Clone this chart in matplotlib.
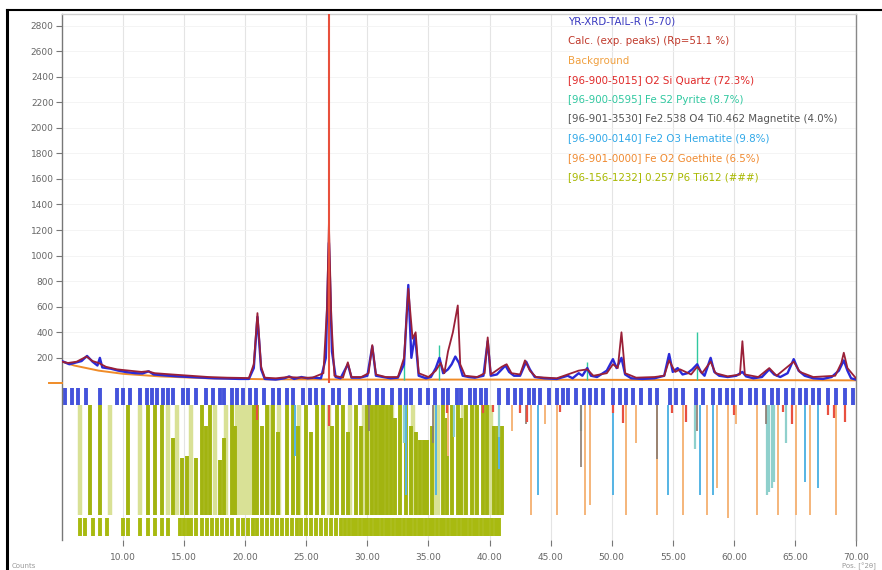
import matplotlib
matplotlib.use("Agg")
import matplotlib.pyplot as plt
from matplotlib.lines import Line2D

# ---------------- data ----------------
obs_x = [5.0, 5.6, 6.2, 6.6, 7.05, 7.5, 7.9, 8.1, 8.3, 9.0, 9.6, 10.3, 11.0, 11.6, 12.1, 12.5, 13.5, 14.5,
         15.5, 16.5, 17.5, 18.5, 19.5, 20.3, 20.7, 21.0, 21.3, 21.6, 22.5, 23.2, 23.6, 24.0, 24.6, 25.1, 25.6,
         26.2, 26.6, 26.85, 27.1, 27.4, 27.8, 28.4, 28.7, 29.4, 30.0, 30.4, 30.7, 31.3, 31.9, 32.5, 33.0, 33.35,
         33.6, 33.9, 34.2, 34.8, 35.2, 35.6, 35.9, 36.2, 36.6, 36.9, 37.2, 37.5, 37.8, 38.3, 38.8, 39.5, 39.85,
         40.1, 40.6, 41.0, 41.3, 41.6, 42.0, 42.5, 43.0, 43.3, 43.7, 44.5, 45.5, 46.4, 46.8, 47.3, 47.6, 48.0,
         48.3, 48.8, 49.6, 50.1, 50.4, 50.8, 51.1, 51.6, 52.5, 53.5, 54.3, 54.7, 55.0, 55.4, 55.8, 56.2, 56.6,
         57.0, 57.3, 57.6, 58.1, 58.4, 58.8, 59.5, 60.2, 60.7, 61.0, 61.6, 62.3, 62.9, 63.3, 63.8, 64.4, 64.9,
         65.3, 65.8, 66.5, 67.3, 68.0, 68.6, 69.0, 69.3, 69.6, 70.0]
obs_y = [175, 150, 165, 175, 215, 170, 140, 200, 125, 115, 100, 88, 80, 78, 95, 70, 62, 55,
         50, 45, 40, 38, 35, 35, 120, 520, 110, 35, 30, 40, 55, 35, 50, 40, 45,
         40, 200, 1100, 250, 50, 40, 150, 45, 45, 60, 290, 60, 50, 40, 45, 150, 770,
         200, 380, 60, 40, 50, 120, 200, 80, 110, 150, 210, 160, 60, 50, 45, 60, 330,
         60, 70, 110, 140, 90, 60, 60, 170, 110, 50, 40, 35, 60, 40, 80, 60, 120,
         60, 50, 100, 190, 120, 200, 70, 40, 35, 40, 60, 230, 90, 120, 70, 80, 110,
         150, 90, 60, 200, 90, 60, 50, 60, 90, 55, 40, 50, 110, 70, 50, 80, 190,
         100, 60, 40, 35, 50, 100, 180, 100, 40, 30]

calc_x = [5.0, 5.5, 6.2, 7.0, 7.5, 8.0, 8.6, 9.5, 10.5, 11.5, 12.0, 12.6, 14.0, 15.5, 17.0, 18.5, 20.3, 20.7,
          21.0, 21.3, 21.6, 22.5, 23.5, 24.5, 25.5, 26.4, 26.7, 26.85, 27.05, 27.3, 28.0, 28.4, 28.7, 29.5,
          30.1, 30.4, 30.7, 31.5, 32.5, 33.0, 33.35, 33.7, 33.95, 34.2, 35.0, 35.6, 36.0, 36.3, 36.6, 37.0,
          37.4, 37.6, 38.0, 39.0, 39.6, 39.85, 40.1, 41.0, 41.4, 41.8, 42.5, 42.9, 43.3, 43.8, 45.5, 46.4,
          47.3, 48.0, 48.5, 49.6, 50.1, 50.5, 50.8, 51.1, 52.0, 53.5, 54.3, 54.7, 55.2, 55.6, 56.5, 57.0,
          57.4, 58.1, 58.5, 59.5, 60.5, 60.7, 60.9, 62.0, 62.9, 63.5, 64.9, 65.4, 66.5, 68.3, 68.8, 69.0,
          69.3, 70.0]
calc_y = [170, 160, 170, 210, 175, 160, 130, 110, 100, 90, 95, 80, 70, 60, 50, 45, 42, 150,
          550, 130, 45, 40, 50, 45, 45, 80, 600, 1250, 500, 60, 45, 165, 50, 50,
          80, 300, 70, 50, 50, 200, 740, 350, 400, 80, 50, 100, 160, 80, 250, 400,
          610, 150, 60, 50, 80, 360, 70, 130, 150, 80, 70, 180, 100, 50, 40, 70,
          100, 110, 60, 80, 150, 120, 400, 80, 45, 50, 60, 180, 90, 110, 70, 130,
          80, 170, 80, 55, 70, 330, 70, 50, 120, 60, 170, 90, 50, 60, 160, 240,
          120, 40]

bg_x = [5, 6, 7, 8, 10, 13, 17, 22, 30, 40, 50, 60, 70]
bg_y = [170, 140, 120, 100, 75, 55, 40, 32, 30, 30, 28, 26, 24]

quartz_main_pos = 26.85

# phase profile spikes in the main pattern (position, height)
pyrite_spikes = [(33.0, 150), (35.9, 300), (48.0, 170), (57.0, 400)]

# stick positions (deg 2theta) and lengths (counts, drawn downward)
peak_ticks = [5.25, 5.8, 6.33, 7.0, 8.1, 9.48, 10.0, 10.56, 11.38, 11.93, 12.34, 12.75, 13.3, 13.7, 14.1,
              14.9, 15.3, 16.0, 16.8, 17.4, 17.9, 18.3, 18.9, 19.3, 19.8, 20.4, 20.9, 21.5, 22.3, 22.8,
              23.4, 23.9, 24.7, 25.3, 25.8, 26.4, 27.2, 27.7, 28.6, 29.4, 30.1, 30.8, 31.3, 32.0, 32.7,
              33.2, 33.6, 34.3, 35.0, 35.5, 36.2, 36.6, 37.3, 37.7, 38.4, 38.8, 39.3, 39.75, 40.8, 41.5,
              42.1, 42.6, 43.2, 43.6, 44.1, 44.9, 45.5, 46.0, 46.4, 47.1, 47.7, 48.2, 48.75, 49.3, 50.1,
              50.7, 51.2, 51.75, 52.4, 53.1, 53.7, 54.75, 55.3, 55.8, 56.9, 57.5, 58.3, 58.85, 59.4, 59.9,
              60.6, 61.3, 61.85, 62.5, 63.1, 63.6, 64.3, 64.85, 65.4, 65.9, 66.5, 67.0, 67.7, 68.4, 69.1,
              69.75]

olive_dark_pos = [7.3, 8.1, 10.4, 12.0, 12.6, 13.2, 14.1, 14.8, 15.2, 16.0, 16.5, 16.8, 17.1, 17.9, 18.3,
                  18.9, 19.2, 20.7, 21.0, 21.4, 21.8, 22.3, 22.7, 23.4, 23.9, 24.3, 25.0, 25.4, 25.9, 26.4,
                  27.1, 27.5, 28.0, 28.4, 29.1, 29.5, 30.0, 30.4, 30.7, 31.0, 31.3, 31.6, 31.9, 32.3, 32.7,
                  33.2, 33.6, 34.0, 34.3, 34.6, 34.9, 35.3, 36.2, 36.5, 36.9, 37.4, 37.7, 38.1, 38.6, 39.0,
                  39.5, 39.8, 40.4, 40.7, 41.0]
olive_dark_len = [860, 860, 860, 860, 860, 860, 600, 450, 460, 450, 860, 700, 860, 430, 600,
                  860, 700, 860, 860, 700, 860, 860, 650, 860, 860, 700, 860, 650, 860, 860,
                  700, 860, 860, 650, 860, 700, 860, 860, 860, 860, 860, 860, 860, 760, 860,
                  860, 700, 650, 590, 590, 590, 700, 860, 760, 860, 860, 760, 860, 860, 860,
                  860, 860, 700, 700, 700]
olive_pale_pos = [6.5, 8.9, 11.4, 13.7, 14.4, 15.6, 17.5, 18.4, 19.3, 19.6, 19.9, 20.2, 20.5, 22.0, 22.8,
                  24.4, 26.85, 28.6, 29.7, 30.1, 32.0, 33.7, 35.5, 35.8, 37.8, 38.9, 40.1]
olive_row_pos = [6.5, 6.9, 7.5, 8.1, 8.7, 10.0, 10.4, 11.4, 12.0, 12.6, 13.2, 13.7, 14.7, 15.0, 15.3, 15.6,
                 16.0, 16.5, 16.9, 17.3, 17.7, 18.1, 18.5, 18.9, 19.4, 19.8, 20.2, 20.6, 21.0, 21.4, 21.8,
                 22.2, 22.6, 23.0, 23.4, 23.8, 24.2, 24.6, 25.0, 25.4, 25.8, 26.2, 26.6, 27.0, 27.4, 27.8,
                 28.2, 28.5, 28.8, 29.1, 29.4, 29.7, 30.0, 30.3, 30.6, 30.9, 31.2, 31.5, 31.8, 32.1, 32.4,
                 32.7, 33.0, 33.3, 33.6, 33.9, 34.2, 34.5, 34.8, 35.1, 35.4, 35.7, 36.0, 36.3, 36.6, 36.9,
                 37.2, 37.5, 37.8, 38.1, 38.4, 38.7, 39.0, 39.3, 39.6, 39.9, 40.2, 40.5, 40.8]

goethite_pos = [36.6, 41.8, 43.4, 44.5, 45.5, 47.8, 48.2, 51.2, 52.0, 53.7, 55.8, 57.8, 58.6, 59.5, 60.2,
                61.9, 63.6, 65.1, 66.2, 68.4]
goethite_len = [400, 200, 860, 150, 860, 860, 780, 860, 300, 860, 860, 860, 650, 880, 150,
                860, 860, 860, 860, 860]
hematite_pos = [24.1, 33.2, 35.6, 40.8, 44.0, 50.1, 54.6, 57.2, 58.3, 62.9, 65.8, 66.9]
hematite_len = [400, 700, 700, 500, 700, 700, 700, 700, 700, 650, 600, 650]
pyrite_pos = [33.0, 37.1, 40.8, 47.5, 56.8, 64.3, 62.7, 62.9, 63.1, 63.3]
pyrite_len = [300, 250, 250, 200, 340, 300, 700, 680, 650, 600]
magnetite_pos = [30.1, 35.4, 43.0, 47.5, 53.7, 57.0, 62.6]
magnetite_len = [200, 300, 150, 480, 420, 200, 150]
quartz_pos = [21.0, 26.85, 36.5, 39.5, 40.3, 42.5, 43.1, 45.8, 50.1, 50.9, 54.9, 56.1, 60.0, 64.0, 64.8,
              67.7, 68.2, 69.1]
quartz_len = [120, 160, 60, 60, 50, 60, 130, 50, 60, 140, 60, 130, 80, 50, 150, 80, 100, 130]

legend_labels = ["YR-XRD-TAIL-R (5-70)",
                 "Calc. (exp. peaks) (Rp=51.1 %)",
                 "Background",
                 "[96-900-5015] O2 Si Quartz (72.3%)",
                 "[96-900-0595] Fe S2 Pyrite (8.7%)",
                 "[96-901-3530] Fe2.538 O4 Ti0.462 Magnetite (4.0%)",
                 "[96-900-0140] Fe2 O3 Hematite (9.8%)",
                 "[96-901-0000] Fe O2 Goethite (6.5%)",
                 "[96-156-1232] 0.257 P6 Ti612 (###)"]
legend_colors = ["#3a3ac0", "#c0392b", "#f0a040", "#e02828", "#30c8a0", "#555555", "#30a8e8", "#f08a30", "#a8b800"]

x_ticks = [10, 15, 20, 25, 30, 35, 40, 45, 50, 55, 60, 65, 70]
y_ticks = [200, 400, 600, 800, 1000, 1200, 1400, 1600, 1800, 2000, 2200, 2400, 2600, 2800]

# ---------------- figure ----------------
W, H = 882, 570
fig = plt.figure(figsize=(W / 100, H / 100), dpi=100)
fig.patch.set_facecolor("white")
ax = fig.add_axes([62 / W, 1 - 540 / H, (856 - 62) / W, (540 - 14) / H])
ax.set_xlim(5, 70)
ax.set_ylim(-1225, 2890)

ax.grid(True, axis="x", color="#e4e4e4", lw=0.8)
ax.grid(True, axis="y", color="#f2f2f2", lw=0.6)
ax.set_axisbelow(True)

top0 = -170      # top of stick pane
bot0 = -1030     # bottom of long sticks

# peak position ticks row
ax.vlines(peak_ticks, -165, -35, colors="#3040d8", lw=2.8, alpha=0.9)

# olive sticks
ax.vlines(olive_pale_pos, bot0, top0, colors="#d9e196", lw=3.2)
ax.vlines(olive_dark_pos, bot0, [bot0 + l for l in olive_dark_len], colors="#a2b410", lw=2.8)
ax.vlines(olive_row_pos, -1190, -1055, colors="#a8ba10", lw=2.8)

# other phases hanging from top
ax.vlines(goethite_pos, [top0 - l for l in goethite_len], top0, colors="#f5b57a", lw=1.4)
ax.vlines(hematite_pos, [top0 - l for l in hematite_len], top0, colors="#55b4e4", lw=1.4)
ax.vlines(pyrite_pos, [top0 - l for l in pyrite_len], top0, colors="#8fd0cc", lw=1.6)
ax.vlines(magnetite_pos, [top0 - l for l in magnetite_len], top0, colors="#8a7a70", lw=1.2)
ax.vlines(quartz_pos, [top0 - l for l in quartz_len], top0, colors="#e85040", lw=1.6)

# main pattern
ax.plot(bg_x, bg_y, color="#f08c28", lw=1.4, zorder=3)
ax.plot([3.9, 5.0], [0, 0], color="#f08c28", lw=1.4, clip_on=False, zorder=3)
ax.vlines([p for p, h in pyrite_spikes], 30, [h for p, h in pyrite_spikes], colors="#30c8a0", lw=1.0, zorder=3)
ax.plot(obs_x, obs_y, color="#2a2ad8", lw=1.7, zorder=4)
ax.plot(calc_x, calc_y, color="#9a2038", lw=1.3, zorder=5)
ax.vlines([quartz_main_pos], 0, 3000, colors="#e8503c", lw=1.5, zorder=6)

# axes styling
ax.set_xticks(x_ticks)
ax.set_xticklabels([f"{v:.2f}" for v in x_ticks])
ax.set_yticks(y_ticks)
ax.set_yticklabels([str(v) for v in y_ticks])
ax.tick_params(axis="both", colors="#777777", labelsize=6.5, length=4, width=0.8, direction="out")
ax.tick_params(axis="x", pad=5, labelcolor="#666666")
ax.tick_params(axis="y", pad=2, labelcolor="#666666")
ax.spines["bottom"].set_visible(False)
ax.spines["left"].set_color("#777777")
ax.spines["right"].set_color("#888888")
ax.spines["top"].set_color("#cfcfcf")
for s in ["left", "right", "top"]:
    ax.spines[s].set_linewidth(1.0)

# legend as colored text
for i, (lab, col) in enumerate(zip(legend_labels, legend_colors)):
    fig.text(568 / W, 1 - (22 + i * 19.4) / H, lab, color=col, fontsize=7.4, va="center", ha="left")

# outer document frame lines
fig.add_artist(Line2D([7 / W, 7 / W], [0, 1 - 10 / H], color="black", lw=2.2))
fig.add_artist(Line2D([7 / W, 1], [1 - 10 / H, 1 - 10 / H], color="black", lw=1.5))

# small footer texts
fig.text(12 / W, 1 - 566 / H, "Counts", color="#999999", fontsize=5, va="center")
fig.text(842 / W, 1 - 566 / H, "Pos. [°2θ]", color="#999999", fontsize=5, va="center")

fig.savefig("out.png", dpi=100)
